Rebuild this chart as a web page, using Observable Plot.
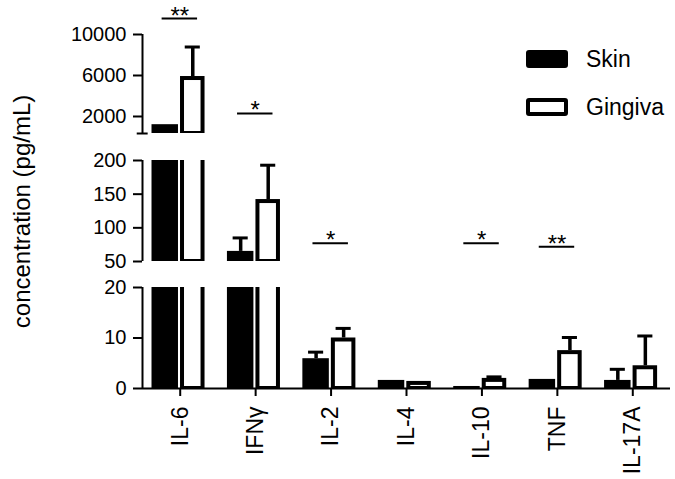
<!DOCTYPE html>
<html><head><meta charset="utf-8">
<script src="https://cdn.jsdelivr.net/npm/d3@7"></script>
<script src="https://cdn.jsdelivr.net/npm/@observablehq/plot@0.6"></script>
<style>
body{margin:0;background:#fff;}
#wrap{position:relative;width:675px;height:479px;font-family:"Liberation Sans",Arial,sans-serif;color:#000;}
#legend{position:absolute;left:526px;top:47px;}
.item{display:flex;align-items:center;height:24px;margin-bottom:24px;font-size:23px;}
.sw{width:42px;height:18px;box-sizing:border-box;border-radius:3px;margin-right:18px;}
</style></head><body><div id="wrap"><div id="legend"></div></div>
<script>
// ---- data ----
const categories = ["IL-6", "IFNγ", "IL-2", "IL-4", "IL-10", "TNF", "IL-17A"];
const series = ["Skin", "Gingiva"];
const skinMean = [1200, 65, 5.9, 1.6, 0.4, 1.8, 1.6];
const skinErrTop = [null, 85, 7.2, null, null, null, 3.8];
const gingivaMean = [5900, 142, 10.0, 1.4, 2.0, 7.5, 4.5];
const gingivaErrTop = [8780, 193, 11.9, null, 2.3, 10.1, 10.4];
const sigCategories = ["IL-6", "IFNγ", "IL-2", "IL-10", "TNF"];
const sigLabels = ["**", "*", "*", "*", "**"];
const sigLevels = [11550, 2300, 77, 77, 72];
const segLows = [0, 50, 340];
const segHighs = [20, 200, 10000];
const segTicks = [[0, 10, 20], [50, 100, 150, 200], [2000, 6000, 10000]];

// ---- layout of the broken axis (virtual units = pixels) ----
const segSpan = [[0, 101], [127, 228], [255, 354]];
const segs = segLows.map((lo, k) => ({lo, hi: segHighs[k], u0: segSpan[k][0], u1: segSpan[k][1]}));
function T(v) {
  for (let k = 0; k < segs.length; k++) {
    const s = segs[k];
    if (v <= s.hi || k === segs.length - 1) return s.u0 + (v - s.lo) / (s.hi - s.lo) * (s.u1 - s.u0);
  }
}
const barPos = {Skin: [0.126, 0.477], Gingiva: [0.504, 0.829]};
const colors = {Skin: "#000", Gingiva: "#fff"};

const bars = [];
categories.forEach((c, i) => {
  bars.push({cat: c, i, series: "Skin", value: skinMean[i], err: skinErrTop[i]});
  bars.push({cat: c, i, series: "Gingiva", value: gingivaMean[i], err: gingivaErrTop[i]});
});
const pieces = [];
for (const b of bars) for (const s of segs) {
  if (b.value > s.lo) pieces.push({...b, a: s.lo, top: Math.min(b.value, s.hi), clipped: b.value > s.hi});
}
const skinPieces = pieces.filter(d => d.series === "Skin");
const gingPieces = pieces.filter(d => d.series === "Gingiva");
const errs = bars.filter(d => d.err != null);
const center = d => d.i + (barPos[d.series][0] + barPos[d.series][1]) / 2;
const sig = sigCategories.map((c, k) => ({i: categories.indexOf(c), label: sigLabels[k], level: sigLevels[k]}));

const tickValues = segTicks.flat();
const tickLabel = new Map(tickValues.map(t => [T(t), String(t)]));

const plot = Plot.plot({
  width: 675, height: 479,
  marginTop: 34, marginBottom: 91, marginLeft: 142, marginRight: 5,
  style: {fontFamily: "'Liberation Sans', Arial, sans-serif", color: "#000", background: "#fff"},
  x: {type: "linear", domain: [0, categories.length]},
  y: {type: "linear", domain: [0, segSpan[2][1]]},
  marks: [
    Plot.rect(skinPieces, {x1: d => d.i + barPos.Skin[0], x2: d => d.i + barPos.Skin[1], y1: d => T(d.a), y2: d => T(d.top), fill: "#000"}),
    Plot.rect(gingPieces, {x1: d => d.i + barPos.Gingiva[0], x2: d => d.i + barPos.Gingiva[1], y1: d => T(d.a), y2: d => T(d.top), fill: "#000"}),
    Plot.rect(gingPieces.filter(d => !d.clipped), {x1: d => d.i + barPos.Gingiva[0], x2: d => d.i + barPos.Gingiva[1], y1: d => T(d.a), y2: d => T(d.top), fill: "#fff", insetLeft: 4, insetRight: 4, insetTop: 4, insetBottom: 2}),
    Plot.rect(gingPieces.filter(d => d.clipped), {x1: d => d.i + barPos.Gingiva[0], x2: d => d.i + barPos.Gingiva[1], y1: d => T(d.a), y2: d => T(d.top), fill: "#fff", insetLeft: 4, insetRight: 4, insetBottom: 2}),
    // error bars
    Plot.ruleX(errs, {x: center, y1: d => T(d.value), y2: d => T(d.err), stroke: "#000", strokeWidth: 3.5}),
    Plot.ruleY(errs, {y: d => T(d.err), x1: d => center(d) - 0.1, x2: d => center(d) + 0.1, stroke: "#000", strokeWidth: 3}),
    // axes lines
    Plot.ruleY([0], {y: d => T(d), stroke: "#000", strokeWidth: 2}),
    Plot.ruleX(segs, {x: () => 0, y1: d => d.u0, y2: d => d.u1, stroke: "#000", strokeWidth: 2}),
    Plot.ruleY([segs[2]], {y: d => d.u0, x1: () => -0.07, x2: () => 0.075, stroke: "#000", strokeWidth: 2}),
    Plot.axisY({ticks: tickValues.map(T), tickFormat: u => tickLabel.get(u), tickSize: 9, tickPadding: 7, fontSize: 20, strokeWidth: 2, label: null}),
    Plot.axisX({ticks: categories.map((c, i) => i + 0.5), tickFormat: u => categories[Math.round(u - 0.5)], tickRotate: -90, tickSize: 8, tickPadding: 10, fontSize: 23, strokeWidth: 2, label: null}),
    Plot.text(["concentration (pg/mL)"], {frameAnchor: "left", textAnchor: "middle", rotate: -90, dx: -120, fontSize: 24, fill: "#000"}),
    // significance
    Plot.ruleY(sig, {y: d => T(d.level), x1: d => d.i + 0.26, x2: d => d.i + 0.73, stroke: "#000", strokeWidth: 2}),
    Plot.text(sig, {x: d => d.i + 0.495, y: d => T(d.level), text: "label", lineAnchor: "bottom", dy: 5, fontSize: 24, fill: "#000"})
  ]
});
document.getElementById("wrap").prepend(plot);

const legend = document.getElementById("legend");
for (const s of series) {
  const item = document.createElement("div");
  item.className = "item";
  const sw = document.createElement("div");
  sw.className = "sw";
  sw.style.background = colors[s];
  sw.style.border = "4px solid #000";
  const lab = document.createElement("span");
  lab.textContent = s;
  item.append(sw, lab);
  legend.append(item);
}
</script></body></html>
